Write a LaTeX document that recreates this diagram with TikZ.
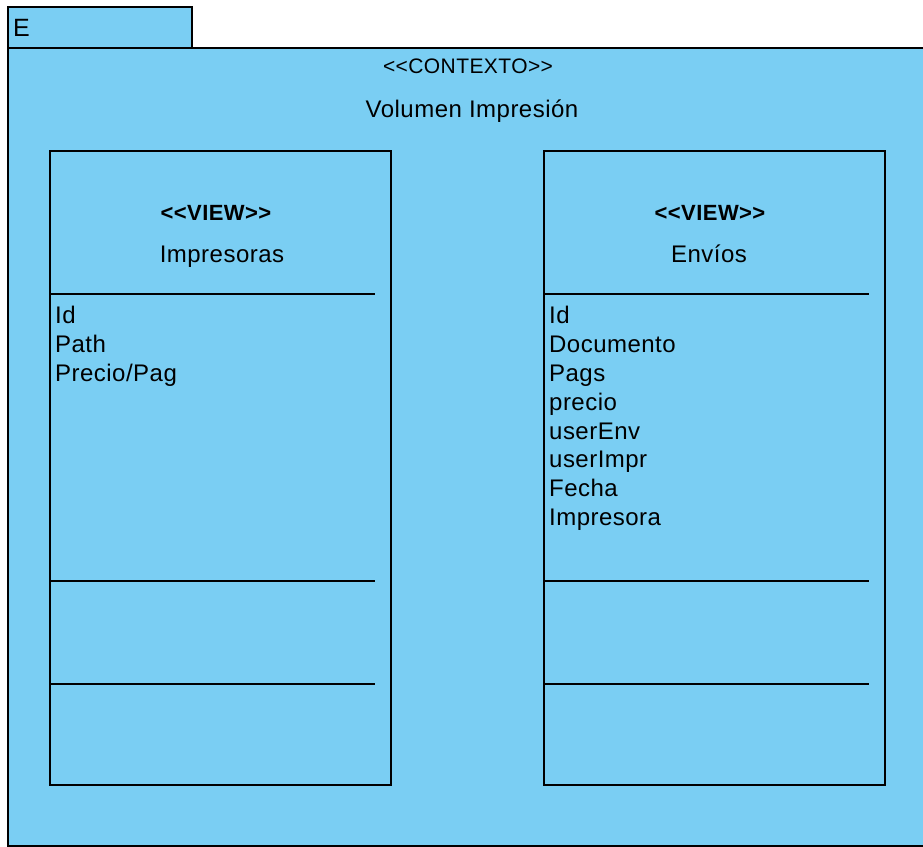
\documentclass[tikz,border=0pt]{standalone}
\usepackage{fontspec}
\setmainfont[LetterSpace=2]{Liberation Sans}
\definecolor{uml_blue}{RGB}{122, 206, 243}
\tikzstyle{pkg}=[rectangle,draw=black,fill=uml_blue,line width=2pt,
  inner sep=0pt,anchor=north west]
\tikzstyle{cls}=[rectangle,draw=black,line width=2pt,inner sep=0pt,
  anchor=north west,minimum width=341pt,minimum height=634pt]
\tikzstyle{sep}=[draw=black,line width=1.8pt]
\tikzstyle{attr}=[anchor=base west,inner sep=0pt,font=\fontsize{24}{29}\selectfont]
\tikzstyle{title}=[anchor=base,inner sep=0pt,font=\fontsize{24}{29}\selectfont]
\tikzstyle{stereo}=[anchor=base,inner sep=0pt,font=\bfseries\fontsize{22}{26}\selectfont]

\begin{document}
\begin{tikzpicture}[x=1pt,y=-1pt]
    \useasboundingbox (0,0) rectangle (923,846);
    \clip (0,0) rectangle (923,846);
    \node [style=pkg,minimum width=184pt,minimum height=41pt] (tab) at (7,6) {};
    \node [style=pkg,minimum width=940pt,minimum height=798pt] (body) at (7,47) {};
    \node [style=attr,font=\fontsize{25}{30}\selectfont] (pkgname) at (13,36) {E};
    \node [style=title,font=\fontsize{21}{25}\selectfont] (ctx) at (468,73) {<{}<CONTEXTO>{}>};
    \node [style=title] (ctxname) at (472,117) {Volumen Impresión};
    \node [style=cls] (impr) at (49,150) {};
    \node [style=cls] (env) at (543,150) {};
    \node [style=stereo] (st1) at (216,220) {<{}<VIEW>{}>};
    \node [style=title] (n1) at (222,262) {Impresoras};
    \node [style=stereo] (st2) at (710,220) {<{}<VIEW>{}>};
    \node [style=title] (n2) at (709,262) {Envíos};
    \foreach \c in {impr,env} {
      \draw [style=sep] ([yshift=-144pt]\c.north west) -- +(326pt,0);
      \draw [style=sep] ([yshift=-431pt]\c.north west) -- +(326pt,0);
      \draw [style=sep] ([yshift=-534pt]\c.north west) -- +(326pt,0);
    }
    \node [style=attr] (a1) at (55,323) {Id};
    \node [style=attr] (a2) at (55,352) {Path};
    \node [style=attr] (a3) at (55,381) {Precio/Pag};
    \node [style=attr] (b1) at (549,323) {Id};
    \node [style=attr] (b2) at (549,352) {Documento};
    \node [style=attr] (b3) at (549,381) {Pags};
    \node [style=attr] (b4) at (549,410) {precio};
    \node [style=attr] (b5) at (549,439) {userEnv};
    \node [style=attr] (b6) at (549,467) {userImpr};
    \node [style=attr] (b7) at (549,496) {Fecha};
    \node [style=attr] (b8) at (549,525) {Impresora};
\end{tikzpicture}
\end{document}
